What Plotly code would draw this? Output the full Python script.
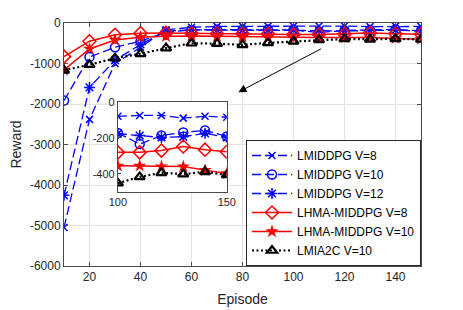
import plotly.graph_objects as go

episodes = [10, 20, 30, 40, 50, 60, 70, 80, 90, 100, 110, 120, 130, 140, 150]

lmiddpg_v8 = [-5050, -2380, -1000, -600, -170, -105, -85, -80, -80, -80, -75, -75, -90, -80, -85]
lmiddpg_v10 = [-1915, -840, -600, -450, -230, -170, -165, -165, -165, -173, -235, -187, -170, -159, -192]
lmiddpg_v12 = [-4255, -1590, -920, -530, -200, -170, -175, -175, -175, -177, -187, -198, -194, -175, -197]
lhma_v8 = [-830, -450, -290, -250, -245, -255, -260, -262, -268, -281, -281, -271, -248, -266, -278]
lhma_v10 = [-1160, -640, -420, -350, -330, -320, -330, -340, -345, -356, -356, -360, -360, -380, -399]
lmia2c_v10 = [-1170, -1030, -870, -760, -620, -500, -510, -540, -490, -453, -418, -395, -402, -390, -407]

main_yticks = [0, -1000, -2000, -3000, -4000, -5000, -6000]
main_yticktext = ["0", "-1000", "-2000", "-3000", "-4000", "-5000", "-6000"]
main_xticks = [20, 40, 60, 80, 100, 120, 140]
inset_yticks = [0, -200, -400]
inset_yticktext = ["0", "-200", "-400"]
inset_xticks = [100, 150]

series = [
    ("LMIDDPG V=8", lmiddpg_v8, "blue", "9px,4px", 1.3, "x-thin-open", 7, 1.5),
    ("LMIDDPG V=10", lmiddpg_v10, "blue", "9px,4px", 1.3, "circle-open", 9, 1.5),
    ("LMIDDPG V=12", lmiddpg_v12, "blue", "9px,4px", 1.3, "asterisk-open", 9, 1.5),
    ("LHMA-MIDDPG V=8", lhma_v8, "red", "solid", 1.5, "diamond-open", 10, 1.5),
    ("LHMA-MIDDPG V=10", lhma_v10, "red", "solid", 1.5, "star", 10, 0),
    ("LMIA2C V=10", lmia2c_v10, "black", "2px,2.5px", 2.2, "triangle-up-open", 9, 2.2),
]

fig = go.Figure()
for name, vals, color, dash, lw, sym, msize, mlw in series:
    fig.add_trace(go.Scatter(
        x=episodes, y=vals, name=name, mode="lines+markers",
        line=dict(color=color, dash=dash, width=lw),
        marker=dict(symbol=sym, size=msize, color=color, line=dict(color=color, width=mlw)),
        xaxis="x", yaxis="y",
    ))

# inset (episodes >= 100)
idx = [i for i, e in enumerate(episodes) if e >= 100]
for name, vals, color, dash, lw, sym, msize, mlw in series:
    fig.add_trace(go.Scatter(
        x=[episodes[i] for i in idx], y=[vals[i] for i in idx], name=name,
        mode="lines+markers", showlegend=False,
        line=dict(color=color, dash=dash, width=lw),
        marker=dict(symbol=sym, size=msize, color=color, line=dict(color=color, width=mlw)),
        xaxis="x2", yaxis="y2",
    ))

axcol = "#4a4a4a"
font_family = "Liberation Sans, Arial, sans-serif"

fig.update_layout(
    width=455, height=302,
    margin=dict(l=56, r=42, t=15, b=44),
    paper_bgcolor="white", plot_bgcolor="white",
    font=dict(family=font_family, size=12, color="#262626"),
    xaxis=dict(
        domain=[0, 1], range=[10, 150], tickvals=main_xticks,
        showgrid=True, gridcolor="#e3e3e3", gridwidth=1,
        showline=True, linecolor=axcol, linewidth=1, mirror="ticks",
        ticks="inside", ticklen=4, tickcolor=axcol,
        zeroline=False, automargin=False,
        title=dict(text="Episode", font=dict(size=14), standoff=10),
        tickfont=dict(size=12),
    ),
    yaxis=dict(
        domain=[0, 1], range=[-6000, 0], tickvals=main_yticks, ticktext=main_yticktext,
        showgrid=True, gridcolor="#e3e3e3", gridwidth=1,
        showline=True, linecolor=axcol, linewidth=1, mirror="ticks",
        ticks="inside", ticklen=4, tickcolor=axcol,
        zeroline=False, automargin=False,
        title=dict(text="Reward", font=dict(size=14), standoff=9),
        tickfont=dict(size=12),
    ),
    xaxis2=dict(
        domain=[0.151, 0.456], range=[100, 150], tickvals=inset_xticks,
        anchor="y2", showgrid=False,
        showline=True, linecolor=axcol, linewidth=1, mirror=True,
        ticks="inside", ticklen=3, tickcolor=axcol, zeroline=False, automargin=False,
        tickfont=dict(size=11),
    ),
    yaxis2=dict(
        domain=[0.306, 0.675], range=[-500, 0], tickvals=inset_yticks, ticktext=inset_yticktext,
        anchor="x2", showgrid=False,
        showline=True, linecolor=axcol, linewidth=1, mirror=True,
        ticks="inside", ticklen=3, tickcolor=axcol, zeroline=False, automargin=False,
        tickfont=dict(size=11),
    ),
    legend=dict(
        x=1, y=0, xanchor="right", yanchor="bottom",
        bgcolor="white", bordercolor="#262626", borderwidth=1,
        font=dict(size=12, family=font_family, color="black"),
        itemwidth=40, tracegroupgap=0,
    ),
    showlegend=True,
)

fig.add_annotation(
    x=78.4, y=-1707, xref="x", yref="y", ax=84, ay=-44,
    text="", showarrow=True, arrowhead=2, arrowsize=1.6, arrowwidth=1, arrowcolor="black",
)

fig.write_html("out.html")
